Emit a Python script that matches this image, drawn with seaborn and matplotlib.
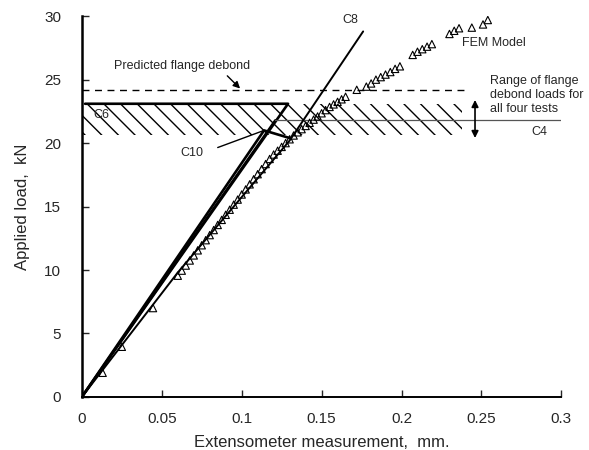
import matplotlib
matplotlib.use("Agg")
import matplotlib.pyplot as plt
import seaborn as sns
import pandas as pd

# FEM model prediction (open triangles)
fem_x = [0.013, 0.025, 0.0445, 0.060, 0.0625, 0.065, 0.0675, 0.070, 0.0725, 0.075,
         0.0775, 0.080, 0.0825, 0.085, 0.0875, 0.090, 0.0925, 0.095, 0.0975, 0.100,
         0.1025, 0.105, 0.1075, 0.110, 0.1125, 0.115, 0.1175, 0.120, 0.1225, 0.125,
         0.1275, 0.130, 0.1325, 0.135, 0.1375, 0.140, 0.1425, 0.145, 0.1475, 0.150,
         0.1525, 0.155, 0.1575, 0.160, 0.1625, 0.165, 0.172, 0.178, 0.181, 0.184,
         0.187, 0.190, 0.193, 0.196, 0.199, 0.207, 0.210, 0.213, 0.216, 0.219,
         0.230, 0.233, 0.236, 0.244, 0.251, 0.254]
fem_y = [1.9, 3.95, 7.0, 9.55, 9.95, 10.35, 10.75, 11.15, 11.55, 11.95,
         12.35, 12.75, 13.15, 13.55, 13.95, 14.35, 14.75, 15.15, 15.55, 15.95,
         16.35, 16.75, 17.15, 17.55, 17.95, 18.35, 18.75, 19.1, 19.4, 19.7,
         20.0, 20.3, 20.6, 20.85, 21.1, 21.35, 21.6, 21.85, 22.1, 22.35,
         22.6, 22.85, 23.05, 23.25, 23.45, 23.65, 24.2, 24.45, 24.7, 25.0,
         25.2, 25.4, 25.6, 25.85, 26.05, 26.95, 27.2, 27.4, 27.6, 27.8,
         28.6, 28.85, 29.05, 29.1, 29.35, 29.7]

# test specimens
c6_x = [0.0, 0.129, 0.002]
c6_y = [0.0, 23.1, 23.1]
c8_x = [0.0, 0.06, 0.13, 0.176]
c8_y = [0.0, 9.8, 20.2, 28.8]
c10_x = [0.0, 0.114, 0.130]
c10_y = [0.0, 21.0, 20.4]
c4_x = [0.0, 0.121]
c4_y = [0.0, 21.8]
c4_plateau_x = [0.121, 0.300]
c4_plateau_y = [21.8, 21.8]

predicted_debond = 24.2
debond_range = [20.6, 23.1]

sns.set_style("ticks")
plt.rcParams["font.family"] = ["Liberation Sans", "DejaVu Sans"]

fig = plt.figure(figsize=(5.89, 4.5), dpi=100)
ax = fig.add_axes([0.139, 0.118, 0.814, 0.846])

# range of flange debond loads
ax.fill_between([0.0, 0.238], debond_range[0], debond_range[1],
                facecolor="none", edgecolor="black", hatch="\\\\", linewidth=0)
ax.plot([0.0, 0.242], [predicted_debond, predicted_debond], color="black",
        lw=1.0, dashes=(5, 4))

sns.lineplot(x=c6_x, y=c6_y, sort=False, color="black", lw=1.9, ax=ax)
sns.lineplot(x=c10_x, y=c10_y, sort=False, color="black", lw=1.9, ax=ax)
sns.lineplot(x=c4_x, y=c4_y, sort=False, color="black", lw=1.7, ax=ax)
sns.lineplot(x=c4_plateau_x, y=c4_plateau_y, sort=False, color="#555555", lw=0.9, ax=ax)
sns.lineplot(x=c8_x, y=c8_y, sort=False, color="black", lw=1.4, ax=ax)

sns.scatterplot(x=fem_x, y=fem_y, marker="^", s=28, facecolor="none",
                edgecolor="black", linewidth=0.8, ax=ax, zorder=3)

# double arrow for range
ax.annotate("", xy=(0.246, 20.4), xytext=(0.246, 23.4),
            arrowprops=dict(arrowstyle="<|-|>", color="black", lw=1.2,
                            mutation_scale=10, shrinkA=0, shrinkB=0))
ax.annotate("", xy=(0.099, 24.3), xytext=(0.091, 25.3),
            arrowprops=dict(arrowstyle="-|>", color="black", lw=1.0,
                            mutation_scale=10, shrinkA=0, shrinkB=0))
ax.annotate("", xy=(0.114, 21.0), xytext=(0.085, 19.65),
            arrowprops=dict(arrowstyle="-", color="black", lw=1.0,
                            shrinkA=0, shrinkB=0))

fs = 9
ax.text(0.0626, 26.1, "Predicted flange debond", fontsize=fs, ha="center", va="center")
ax.text(0.2555, 23.8, "Range of flange\ndebond loads for\nall four tests",
        fontsize=fs, ha="left", va="center", linespacing=1.25)
ax.text(0.238, 27.9, "FEM Model", fontsize=fs, ha="left", va="center")
ax.text(0.168, 29.7, "C8", fontsize=fs, ha="center", va="center")
ax.text(0.0123, 22.2, "C6", fontsize=fs, ha="center", va="center")
ax.text(0.069, 19.2, "C10", fontsize=fs, ha="center", va="center")
ax.text(0.286, 20.9, "C4", fontsize=fs, ha="center", va="center")

ax.set_xlim(0, 0.3)
ax.set_ylim(0, 30)
ax.set_xticks([0, 0.05, 0.1, 0.15, 0.2, 0.25, 0.3])
ax.set_xticklabels(["0", "0.05", "0.1", "0.15", "0.2", "0.25", "0.3"])
ax.set_yticks([0, 5, 10, 15, 20, 25, 30])
ax.tick_params(direction="in", length=5, width=1, labelsize=11)
ax.tick_params(axis="x", pad=11)
ax.tick_params(axis="y", pad=15)
ax.set_xlabel("Extensometer measurement,  mm.", fontsize=12, labelpad=6)
ax.set_ylabel("Applied load,  kN", fontsize=12, labelpad=10)
sns.despine(ax=ax)
ax.spines["left"].set_linewidth(1.8)
ax.spines["bottom"].set_linewidth(1.4)
ax.spines["left"].set_color("black")
ax.spines["bottom"].set_color("black")

plt.savefig("out.png", dpi=100)
plt.close()
